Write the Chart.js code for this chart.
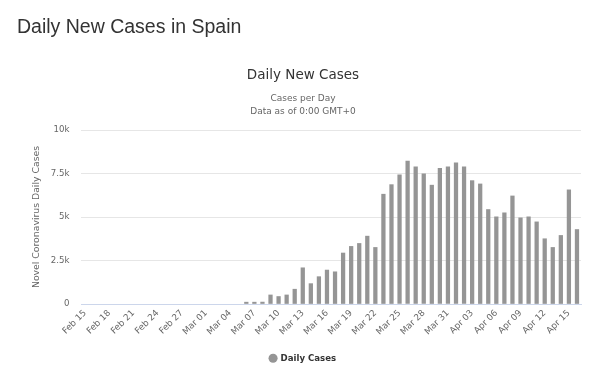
<!DOCTYPE html>
<html>
<head>
<meta charset="utf-8">
<script src="https://cdn.jsdelivr.net/npm/chart.js@4/dist/chart.umd.min.js"></script>
<style>
  html, body { margin: 0; padding: 0; background: #fff; }
  #wrap { position: relative; width: 600px; height: 384px; overflow: hidden; }
  #pageTitle { position: absolute; left: 17px; top: 17px; font-family: "Liberation Sans", Arial, sans-serif; font-size: 19.5px; line-height: 19.5px; color: #333; white-space: nowrap; }
  #c { position: absolute; left: 0; top: 0; }
</style>
</head>
<body>
<div id="wrap">
  <canvas id="c" width="600" height="384"></canvas>
  <div id="pageTitle">Daily New Cases in Spain</div>
</div>
<script>
const categories = [
  'Feb 15','Feb 16','Feb 17','Feb 18','Feb 19','Feb 20','Feb 21','Feb 22','Feb 23','Feb 24','Feb 25','Feb 26','Feb 27','Feb 28','Feb 29',
  'Mar 01','Mar 02','Mar 03','Mar 04','Mar 05','Mar 06','Mar 07','Mar 08','Mar 09','Mar 10','Mar 11','Mar 12','Mar 13','Mar 14','Mar 15',
  'Mar 16','Mar 17','Mar 18','Mar 19','Mar 20','Mar 21','Mar 22','Mar 23','Mar 24','Mar 25','Mar 26','Mar 27','Mar 28','Mar 29','Mar 30','Mar 31',
  'Apr 01','Apr 02','Apr 03','Apr 04','Apr 05','Apr 06','Apr 07','Apr 08','Apr 09','Apr 10','Apr 11','Apr 12','Apr 13','Apr 14','Apr 15','Apr 16'
];
const dailyCases = [
  0,0,0,0,0,0,0,0,0,0,0,0,0,0,0,
  0,0,0,0,0,105,105,110,520,430,520,850,2080,1170,1570,
  1950,1850,2930,3310,3480,3900,3250,6310,6860,7420,8220,7880,7480,6830,7800,7880,
  8110,7880,7090,6900,5430,5010,5240,6210,4950,5010,4720,3750,3250,3940,6560,4280
];
const yTickValues = [0, 2500, 5000, 7500, 10000];
const yTickLabels = ['0', '2.5k', '5k', '7.5k', '10k'];
const seriesName = 'Daily Cases';

const FONT = 'DejaVu Sans';
const BAR = '#959595';

new Chart(document.getElementById('c'), {
  type: 'bar',
  data: {
    labels: categories,
    datasets: [{
      label: seriesName,
      data: dailyCases,
      backgroundColor: function (ctx) {
        if (ctx.type === 'data' && ctx.raw === 0) return 'rgba(0,0,0,0)';
        return BAR;
      },
      borderWidth: 0,
      barThickness: 3.6
    }]
  },
  options: {
    responsive: false,
    animation: false,
    devicePixelRatio: 1,
    layout: { padding: { left: 25, right: 19, top: 0, bottom: 11.4 } },
    plugins: {
      title: {
        display: true,
        text: 'Daily New Cases',
        color: '#333',
        font: { family: FONT, size: 13.5, weight: 'normal', lineHeight: 1.2 },
        padding: { top: 67, bottom: 0 }
      },
      subtitle: {
        display: true,
        text: ['Cases per Day', 'Data as of 0:00 GMT+0'],
        color: '#666',
        font: { family: FONT, size: 9, weight: 'normal', lineHeight: 13 / 9 },
        padding: { top: 9.3, bottom: 11.5 }
      },
      legend: {
        display: true,
        position: 'bottom',
        labels: {
          usePointStyle: true,
          pointStyle: 'circle',
          boxWidth: 6.4,
          boxHeight: 6.4,
          color: '#333',
          font: { family: FONT, size: 8.6, weight: 'bold' },
          generateLabels: function (chart) {
            return [{
              text: seriesName,
              fillStyle: BAR,
              strokeStyle: BAR,
              lineWidth: 0,
              pointStyle: 'circle',
              hidden: false,
              datasetIndex: 0,
              fontColor: '#333'
            }];
          }
        }
      },
      tooltip: { enabled: false }
    },
    scales: {
      x: {
        type: 'category',
        offset: true,
        z: 1,
        grid: { display: false, drawTicks: false },
        border: { display: true, color: '#ccd6eb', width: 1 },
        ticks: {
          autoSkip: false,
          minRotation: 45,
          maxRotation: 45,
          padding: 4,
          color: '#666',
          font: { family: FONT, size: 8.8 },
          callback: function (value, index) { return index % 3 === 0 ? categories[index] : ''; }
        },
        afterFit: function (scale) { scale.height = 40; }
      },
      y: {
        min: 0,
        max: 10000,
        afterBuildTicks: function (scale) { scale.ticks = yTickValues.map(v => ({ value: v })); },
        grid: {
          color: function (ctx) { return ctx.tick && ctx.tick.value === 0 ? 'rgba(0,0,0,0)' : '#e6e6e6'; },
          drawTicks: false,
          lineWidth: 1
        },
        border: { display: false },
        ticks: {
          padding: 11.5,
          color: '#666',
          font: { family: FONT, size: 8.6 },
          callback: function (value) { const i = yTickValues.indexOf(value); return i >= 0 ? yTickLabels[i] : ''; }
        },
        title: {
          display: true,
          text: 'Novel Coronavirus Daily Cases',
          color: '#666',
          font: { family: FONT, size: 9.3, weight: 'normal', lineHeight: 1.2 },
          padding: { top: 6.4, bottom: 0 }
        },
        afterFit: function (scale) { scale.width = 56; }
      }
    }
  }
});
</script>
</body>
</html>
